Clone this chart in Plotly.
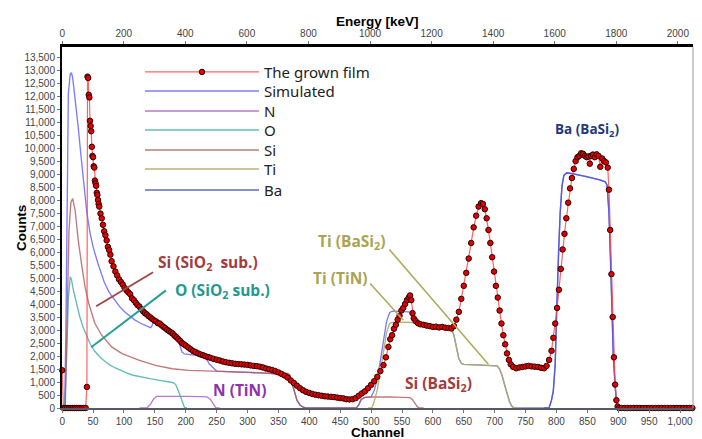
import plotly.graph_objects as go

# ---------------- data ----------------
film_channel = [0, 2, 5, 8, 11, 14, 17, 20, 23, 26, 29, 32, 35, 38, 40, 41, 42, 43, 44, 45, 46, 47, 48, 49, 50,
                51, 52, 53, 54, 55, 56, 57, 58, 59, 60, 62, 64, 66, 68, 70, 72, 74, 76, 78, 80, 83, 86, 89, 92,
                95, 98, 101, 104, 107, 110, 113, 116, 119, 122, 125, 128, 131, 134, 137, 140, 143, 146, 149, 152,
                155, 158, 161, 164, 167, 170, 173, 176, 179, 182, 185, 188, 191, 194, 197, 200, 204, 208, 212,
                216, 220, 224, 228, 232, 236, 240, 245, 250, 255, 260, 265, 270, 275, 280, 285, 290, 295, 300,
                305, 310, 315, 320, 325, 330, 335, 340, 345, 350, 355, 360, 365, 370, 375, 380, 385, 390, 395,
                400, 405, 410, 415, 420, 425, 430, 435, 440, 445, 450, 455, 460, 465, 470, 475, 480, 485, 490,
                495, 500, 505, 510, 515, 520, 524, 528, 531, 534, 537, 540, 543, 546, 549, 552, 555, 558, 561,
                563, 565, 567, 569, 572, 576, 580, 585, 590, 595, 600, 605, 610, 615, 620, 625, 630, 634, 638,
                642, 646, 650, 654, 658, 662, 666, 670, 674, 678, 681, 684, 687, 690, 693, 696, 699, 702, 705,
                708, 711, 714, 717, 720, 723, 726, 730, 735, 740, 745, 750, 755, 760, 765, 770, 775, 780, 784,
                788, 792, 795, 798, 801, 804, 807, 810, 813, 816, 819, 822, 825, 828, 831, 834, 837, 840, 843,
                846, 849, 852, 854, 856, 859, 862, 865, 868, 871, 874, 877, 880, 883, 885, 887, 889, 891, 893,
                895, 897, 899, 901, 905, 910, 915, 920, 925, 930, 935, 940, 945, 950, 955, 960, 965, 970, 975,
                980, 985, 990, 995, 1000, 1005, 1010, 1015, 1020]
film_counts = [1450, 0, 0, 0, 0, 0, 0, 0, 0, 0, 0, 0, 0, 0, 810, 12750, 12700, 12050, 11950, 11050, 10850, 10650,
               10050, 9700, 9650, 9300, 9250, 8750, 8650, 8550, 8280, 8200, 8000, 7850, 7750, 7480, 7300, 7050,
               6800, 6650, 6450, 6200, 6080, 5900, 5650, 5450, 5250, 5100, 4950, 4850, 4750, 4620, 4530, 4450,
               4380, 4220, 4150, 4050, 3960, 3900, 3800, 3720, 3650, 3600, 3530, 3480, 3420, 3370, 3330, 3260,
               3250, 3180, 3120, 3070, 3010, 2960, 2910, 2860, 2780, 2720, 2650, 2580, 2500, 2450, 2400, 2330,
               2260, 2190, 2150, 2100, 2060, 2030, 1990, 1960, 1930, 1890, 1860, 1830, 1790, 1760, 1740, 1720,
               1700, 1690, 1680, 1670, 1660, 1640, 1620, 1610, 1590, 1560, 1520, 1490, 1460, 1420, 1370, 1310,
               1250, 1170, 1060, 960, 860, 760, 680, 620, 580, 540, 510, 490, 470, 450, 440, 430, 420, 400, 380,
               370, 340, 330, 340, 380, 470, 560, 640, 760, 890, 1030, 1200, 1420, 1650, 1950, 2350, 2650, 2800,
               3050, 3200, 3400, 3550, 3750, 3850, 4000, 4150, 4250, 4330, 4150, 3650, 3450, 3350, 3260, 3220,
               3200, 3170, 3150, 3120, 3130, 3100, 3120, 3090, 3080, 3060, 3150, 3400, 3700, 4200, 4700, 5200,
               5750, 6350, 6950, 7400, 7750, 7880, 7850, 7650, 7300, 6850, 6350, 5800, 5250, 4700, 4250, 3750,
               3250, 2800, 2450, 2100, 1850, 1680, 1580, 1530, 1560, 1580, 1600, 1620, 1600, 1590, 1580, 1550,
               1530, 1620, 1850, 2200, 2700, 3250, 3850, 4550, 5350, 6100, 6700, 7300, 7900, 8450, 8850, 9200,
               9500, 9650, 9700, 9800, 9780, 9700, 9650, 9680, 9400, 9700, 9750, 9650, 9760, 9700, 9280, 9600,
               9500, 9450, 9250, 8400, 6850, 5150, 3500, 1950, 900, 300, 60, 0, 0, 0, 0, 0, 0, 0, 0, 0, 0, 0,
               0, 0, 0, 0, 0, 0, 0, 0, 0, 0, 0, 0, 0, 0]

sim_channel = [0, 4, 6, 8, 10, 13, 15, 17, 20, 23, 26, 30, 35, 40, 45, 50, 58, 68, 76, 85, 93, 101, 110, 118,
               126, 134, 140, 143, 145, 148, 152, 160, 170, 180, 186, 190, 194, 198, 210, 225, 232, 238, 244,
               250, 277, 304, 331, 353, 360, 364, 368, 372, 376, 380, 385, 390, 395, 476, 480, 484, 490, 500,
               505, 510, 515, 520, 525, 530, 535, 550, 563, 567, 571, 575, 579, 600, 620, 630, 634, 638, 642,
               646, 650, 670, 690, 700, 704, 708, 712, 716, 720, 724, 728, 732, 788, 792, 795, 798, 800, 803,
               806, 809, 812, 817, 830, 850, 870, 879, 882, 885, 888, 890, 892, 895, 897, 900, 903, 1020]
sim_counts = [0, 0, 3000, 9500, 12100, 12850, 12900, 12700, 12100, 11400, 10800, 9800, 8550, 7500, 6750, 6200,
              5550, 4850, 4450, 4150, 3900, 3700, 3520, 3380, 3270, 3180, 3110, 3090, 3150, 3330, 3300, 3200,
              3050, 2900, 2780, 2450, 2150, 2080, 2050, 2000, 1950, 1700, 1560, 1420, 1390, 1370, 1340, 1300,
              1300, 1330, 1280, 950, 600, 300, 110, 30, 0, 0, 120, 330, 410, 425, 675, 1125, 1825, 2625, 3325,
              3675, 3725, 3720, 3690, 3610, 3390, 3270, 3180, 3110, 3090, 3060, 2800, 2300, 1900, 1720, 1680,
              1660, 1650, 1650, 1620, 1500, 1250, 900, 550, 250, 60, 0, 0, 300, 680, 1700, 3600, 5800, 7500,
              8550, 8950, 9050, 9000, 8900, 8780, 8700, 8570, 7500, 5550, 3630, 1960, 800, 230, 30, 0, 0]

n_channel = [125, 137, 143, 148, 153, 170, 200, 225, 234, 240, 245, 249, 255]
n_counts = [0, 0, 150, 350, 450, 460, 450, 440, 430, 330, 120, 0, 0]

o_channel = [0, 4, 7, 10, 13, 15, 18, 21, 24, 28, 34, 40, 45, 52, 61, 70, 78, 86, 94, 105, 115, 128, 142, 155,
             169, 177, 181, 184, 187, 190, 194, 198, 202]
o_counts = [0, 0, 1800, 4200, 5050, 4950, 4550, 4250, 3950, 3550, 3100, 2750, 2480, 2200, 1960, 1780, 1640,
            1540, 1450, 1340, 1260, 1190, 1130, 1075, 1030, 990, 960, 890, 720, 520, 240, 20, 0]

si_channel = [0, 5, 8, 11, 14, 17, 21, 26, 32, 37, 43, 53, 64, 80, 97, 124, 151, 178, 205, 248, 277, 304, 331,
              353, 360, 364, 368, 372, 376, 380, 385, 390, 395, 470, 476, 480, 484, 490, 500, 530, 555, 563,
              567, 571, 575, 579, 585]
si_counts = [0, 0, 3500, 6800, 7900, 8060, 7600, 6450, 5430, 4660, 4020, 3250, 2800, 2350, 2090, 1840, 1640,
             1510, 1450, 1400, 1390, 1370, 1340, 1300, 1300, 1330, 1280, 950, 600, 300, 110, 30, 0, 0, 0, 120,
             330, 410, 425, 425, 420, 400, 320, 160, 40, 0, 0]

ti_channel = [495, 501, 505, 510, 515, 520, 525, 530, 535, 550, 567, 572, 579, 600, 620, 630, 634, 638, 642,
              646, 650, 670, 690, 700, 704, 708, 712, 716, 720, 724, 728, 732, 740]
ti_counts = [0, 0, 250, 700, 1400, 2200, 2900, 3250, 3300, 3300, 3290, 3230, 3180, 3110, 3090, 3060, 2800,
             2300, 1900, 1720, 1680, 1660, 1650, 1650, 1620, 1500, 1250, 900, 550, 250, 60, 0, 0]

ba_channel = [780, 788, 792, 795, 798, 800, 803, 806, 809, 812, 817, 830, 850, 870, 879, 882, 885, 888, 890,
              892, 895, 897, 900, 903, 910]
ba_counts = [0, 0, 300, 680, 1700, 3600, 5800, 7500, 8550, 8950, 9050, 9000, 8900, 8780, 8700, 8570, 7500,
             5550, 3630, 1960, 800, 230, 30, 0, 0]

legend_names = ["The grown film", "Simulated", "N", "O", "Si", "Ti", "Ba"]
legend_rows_px = [72, 91, 111, 130, 150, 169, 190]   # row centres in the reference

# ---------------- figure ----------------
X_RANGE = [-0.3, 1021]
KEV_PER_CH = 2.007
Y_RANGE = [0, 13890]
PLOT_TOP, PLOT_BOTTOM = 47, 408
legend_ids = ["legend"] + ["legend%d" % i for i in range(2, 8)]

fig = go.Figure()

def element(name, xs, ys, color, width=1.35):
    idx = legend_names.index(name)
    fig.add_trace(go.Scatter(x=xs, y=ys, mode="lines", name=name, legend=legend_ids[idx],
                             line=dict(color=color, width=width), cliponaxis=False,
                             hoverinfo="skip"))

element("Ba", ba_channel, ba_counts, "rgba(80,92,176,0.9)")
element("Simulated", sim_channel, sim_counts, "rgba(80,80,255,0.75)")
element("N", n_channel, n_counts, "rgba(176,104,196,0.9)")
element("O", o_channel, o_counts, "rgba(72,178,166,0.85)")
element("Si", si_channel, si_counts, "rgba(176,88,88,0.8)")
element("Ti", ti_channel, ti_counts, "rgba(176,172,96,0.9)")

fig.add_trace(go.Scatter(
    x=film_channel, y=film_counts, mode="lines+markers", name="The grown film", legend="legend",
    line=dict(color="rgba(255,70,70,0.85)", width=1.2),
    marker=dict(size=5.5, color="#e00000", line=dict(color="#300000", width=1)),
    cliponaxis=False, hoverinfo="skip"))

# anchor trace for the energy axis (no visible marks)
fig.add_trace(go.Scatter(x=[X_RANGE[0] * KEV_PER_CH, X_RANGE[1] * KEV_PER_CH], y=[None, None],
                         xaxis="x2", mode="lines", showlegend=False, hoverinfo="skip"))

tickfont = dict(family="Liberation Sans, Arial", size=10, color="#444")

layout_legends = {}
plot_h = PLOT_BOTTOM - PLOT_TOP
for lid, row in zip(legend_ids, legend_rows_px):
    layout_legends[lid] = dict(
        x=0.1236, y=(PLOT_BOTTOM - (row - 16.3)) / plot_h, xanchor="left", yanchor="top",
        bgcolor="rgba(0,0,0,0)", borderwidth=0, itemwidth=114,
        font=dict(family="Noto Sans", size=15, color="#222"))

fig.update_layout(
    width=702, height=439,
    margin=dict(l=62, r=9, t=47, b=31, pad=0),
    paper_bgcolor="white", plot_bgcolor="white",
    showlegend=True,
    xaxis=dict(range=X_RANGE, dtick=50, tick0=0, tickformat=",d", ticks="outside", ticklen=3,
               tickcolor="#777", tickfont=tickfont, showgrid=False, zeroline=False,
               showline=True, linecolor="#555a66", linewidth=1.5),
    xaxis2=dict(range=[X_RANGE[0] * KEV_PER_CH, X_RANGE[1] * KEV_PER_CH], overlaying="x", side="top",
                anchor="y", dtick=200, tick0=0, tickformat="d", ticks="outside", ticklen=3,
                tickcolor="#777", tickfont=tickfont, showgrid=False, zeroline=False,
                showline=True, linecolor="black", linewidth=3),
    yaxis=dict(range=Y_RANGE, dtick=500, tick0=0, tickformat=",d", ticks="outside", ticklen=3,
               tickcolor="#777", tickfont=tickfont, showgrid=False, zeroline=False,
               showline=True, linecolor="black", linewidth=2),
    **layout_legends,
)

# right frame edge
fig.add_shape(type="line", xref="paper", yref="paper", x0=1, x1=1, y0=0, y1=1,
              line=dict(color="#999", width=1))

# axis titles
title_font = dict(family="Liberation Sans, Arial", size=13.5, color="black")
fig.add_annotation(text="<b>Channel</b>", xref="paper", yref="paper", x=0.5, y=-0.068,
                   xanchor="center", yanchor="middle", showarrow=False, font=title_font)
fig.add_annotation(text="<b>Energy [keV]</b>", xref="paper", yref="paper", x=0.5, y=1.070,
                   xanchor="center", yanchor="middle", showarrow=False, font=title_font)
fig.add_annotation(text="<b>Counts</b>", xref="paper", yref="paper", x=-0.064, y=0.5,
                   xanchor="center", yanchor="middle", textangle=-90, showarrow=False, font=title_font)

# element labels
lab_font = "Open Sans"
labels = [
    ("<b>Si (SiO<sub>2</sub>&nbsp;&nbsp;sub.)</b>", 152, 5608, "#a23c3f", 15.5),
    ("<b>O (SiO<sub>2</sub> sub.)</b>", 179.6, 4504, "#22998e", 15.5),
    ("<b>N (TiN)</b>", 241, 681, "#8e32b0", 15.5),
    ("<b>Si (BaSi<sub>2</sub>)</b>", 551.8, 939, "#a23c3f", 15.5),
    ("<b>Ti (BaSi<sub>2</sub>)</b>", 411, 6390, "#a8a452", 15.5),
    ("<b>Ti (TiN)</b>", 402.4, 5019, "#a8a452", 15.5),
    ("<b>Ba (BaSi<sub>2</sub>)</b>", 794.5, 10689, "#1f3a80", 13.5),
]
for txt, cx, cy, col, fs in labels:
    fig.add_annotation(text=txt, x=cx, y=cy, xref="x", yref="y", xanchor="left", yanchor="middle",
                       showarrow=False, font=dict(family=lab_font, size=fs, color=col))

# leader lines
leaders = [
    (55, 3915, 147.2, 5223, "#a04848", 2),
    (47, 2336, 168, 4527, "#26a095", 2),
    (529.6, 6097, 689.8, 1682, "#b0ab5a", 1.6),
    (498.4, 4788, 552.3, 3376, "#b0ab5a", 1.6),
]
for x0, y0, x1, y1, col, w in leaders:
    fig.add_shape(type="line", xref="x", yref="y", x0=x0, y0=y0, x1=x1, y1=y1,
                  line=dict(color=col, width=w))

fig.write_html("out.html", config={"displayModeBar": False},
               post_script="document.body.style.margin='0';")
